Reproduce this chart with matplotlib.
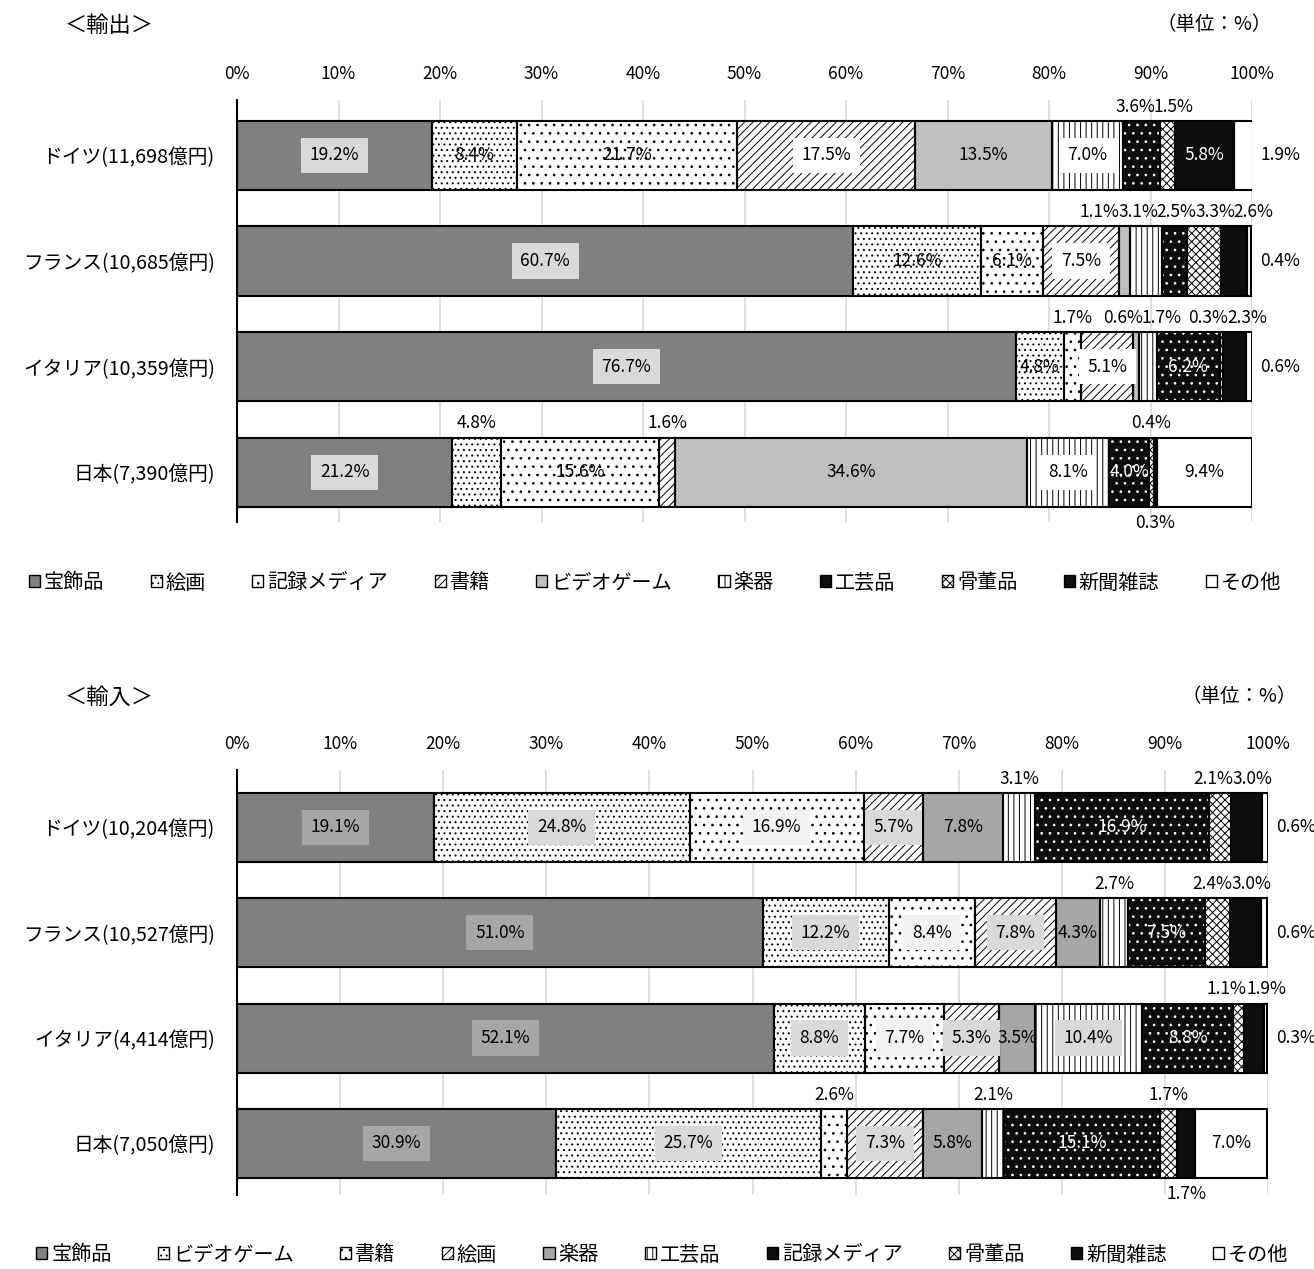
import numpy as np
import matplotlib.pyplot as plt
from matplotlib.patches import Patch

plt.rcParams['font.family'] = ['Noto Sans CJK JP', 'DejaVu Sans']
plt.rcParams['hatch.linewidth'] = 0.7

# ---- data: export ----
exp_countries = ['ドイツ(11,698億円)', 'フランス(10,685億円)', 'イタリア(10,359億円)', '日本(7,390億円)']
exp_items = ['宝飾品', '絵画', '記録メディア', '書籍', 'ビデオゲーム', '楽器', '工芸品', '骨董品', '新聞雑誌', 'その他']
exp_de = [19.2, 8.4, 21.7, 17.5, 13.5, 7.0, 3.6, 1.5, 5.8, 1.9]
exp_fr = [60.7, 12.6, 6.1, 7.5, 1.1, 3.1, 2.5, 3.3, 2.6, 0.4]
exp_it = [76.7, 4.8, 1.7, 5.1, 0.6, 1.7, 6.2, 0.3, 2.3, 0.6]
exp_jp = [21.2, 4.8, 15.6, 1.6, 34.6, 8.1, 4.0, 0.4, 0.3, 9.4]

# ---- data: import ----
imp_countries = ['ドイツ(10,204億円)', 'フランス(10,527億円)', 'イタリア(4,414億円)', '日本(7,050億円)']
imp_items = ['宝飾品', 'ビデオゲーム', '書籍', '絵画', '楽器', '工芸品', '記録メディア', '骨董品', '新聞雑誌', 'その他']
imp_de = [19.1, 24.8, 16.9, 5.7, 7.8, 3.1, 16.9, 2.1, 3.0, 0.6]
imp_fr = [51.0, 12.2, 8.4, 7.8, 4.3, 2.7, 7.5, 2.4, 3.0, 0.6]
imp_it = [52.1, 8.8, 7.7, 5.3, 3.5, 10.4, 8.8, 1.1, 1.9, 0.3]
imp_jp = [30.9, 25.7, 2.6, 7.3, 5.8, 2.1, 15.1, 1.7, 1.7, 7.0]

# fill style per stack position: (face, hatch colour, hatch)
slot_style = [
    ('#808080', '#808080', None),
    ('white', 'black', '...'),
    ('white', 'black', '..'),
    ('white', 'black', '////'),
    (None, None, None),          # plain gray, differs per chart
    ('white', 'black', '|||'),
    ('#0d0d0d', 'white', '..'),
    ('white', 'black', 'xxxx'),
    ('#0d0d0d', '#0d0d0d', None),
    ('white', 'white', None),
]
white_text = [6, 8]


def spread(centers, gap):
    # push overlapping labels apart, keeping each cluster centred
    groups = []
    for c in sorted(centers):
        groups.append([c])
        while len(groups) > 1:
            a, b = groups[-2], groups[-1]
            a_start = np.mean(a) - (len(a) - 1) * gap / 2
            b_start = np.mean(b) - (len(b) - 1) * gap / 2
            if a_start + len(a) * gap > b_start:
                groups[-2] = a + b
                groups.pop()
            else:
                break
    out = []
    for g in groups:
        s = np.mean(g) - (len(g) - 1) * gap / 2
        out += [s + k * gap for k in range(len(g))]
    return out


def draw(ax, countries, rows, gray4, boxes, inside_min, place):
    data = np.array(rows)
    y = np.arange(len(countries))
    h = 0.655
    left = np.zeros(len(countries))
    for j in range(data.shape[1]):
        face, hc, hatch = slot_style[j]
        if face is None:
            face, hc = gray4, gray4
        w = data[:, j]
        ax.barh(y, w, left=left, height=h, color=face, edgecolor=hc, hatch=hatch, lw=0, zorder=2)
        ax.barh(y, w, left=left, height=h, fill=False, edgecolor='black', lw=1.5, zorder=3)
        left = left + w

    for i in range(len(countries)):
        starts = np.concatenate([[0], np.cumsum(data[i])[:-1]])
        above = []
        for j, v in enumerate(data[i]):
            txt = f'{v:.1f}%'
            c = starts[j] + v / 2
            where = place.get((i, j))
            if where is None:
                if v >= inside_min:
                    where = 'in'
                elif j == len(data[i]) - 1:
                    where = 'right'
                else:
                    where = 'above'
            if where == 'in':
                col = 'white' if j in white_text else 'black'
                bb = None
                if boxes[j]:
                    bb = dict(boxstyle='square,pad=0.5', fc=boxes[j], ec='none')
                ax.text(c, i, txt, ha='center', va='center', fontsize=12.5, color=col, bbox=bb, zorder=5)
            elif where == 'right':
                ax.text(100.8, i, txt, ha='left', va='center', fontsize=12.5, zorder=5)
            elif where == 'below':
                ax.text(c, i + h / 2 + 0.15, txt, ha='center', va='center', fontsize=12.5, zorder=5)
            else:
                above.append((c, txt))
        if above:
            xs = spread([a[0] for a in above], 3.8)
            for x, (_, txt) in zip(xs, sorted(above)):
                ax.text(x, i - h / 2 - 0.135, txt, ha='center', va='center', fontsize=12.5, zorder=5)

    ax.set_xlim(0, 100)
    ax.set_xticks(np.arange(0, 101, 10))
    ax.set_xticklabels([f'{t}%' for t in range(0, 101, 10)], fontsize=12.5)
    ax.xaxis.tick_top()
    ax.tick_params(axis='x', length=0, pad=12)
    ax.tick_params(axis='y', length=0, pad=16)
    ax.set_yticks(y)
    ax.set_yticklabels(countries, fontsize=14.2)
    ax.grid(axis='x', color='#d9d9d9', lw=1.2, zorder=0)
    ax.set_axisbelow(True)
    for s in ['top', 'right', 'bottom']:
        ax.spines[s].set_visible(False)
    ax.spines['left'].set_linewidth(1.5)


def legend(items, gray4, x, y):
    handles = []
    for j, name in enumerate(items):
        face, hc, hatch = slot_style[j]
        if face is None:
            face = gray4
        if j == 6:
            handles.append(Patch(facecolor='#0d0d0d', edgecolor='black', lw=1))
        else:
            handles.append(Patch(facecolor=face, edgecolor='black', hatch=hatch, lw=1))
    fig.legend(handles, items, loc='center', bbox_to_anchor=(x, y), ncol=10, frameon=False,
               fontsize=14.5, handlelength=0.55, handleheight=0.55, handletextpad=0.2,
               columnspacing=2.3)


fig = plt.figure(figsize=(13.14, 12.69), dpi=100)

ax1 = fig.add_axes([237 / 1314, 1 - 522 / 1269, 1015 / 1314, 422 / 1269])
draw(ax1, exp_countries, [exp_de, exp_fr, exp_it, exp_jp], '#bfbfbf',
     ['#d9d9d9', None, None, 'white', None, 'white', None, None, None, None],
     4.0, {(3, 1): 'above', (3, 8): 'below'})
ax1.set_ylim(3.47, -0.525)

ax2 = fig.add_axes([237 / 1314, 1 - 1195 / 1269, 1031 / 1314, 425 / 1269])
draw(ax2, imp_countries, [imp_de, imp_fr, imp_it, imp_jp], '#a6a6a6',
     ['#a6a6a6', '#d9d9d9', '#f2f2f2', '#d9d9d9', None, '#d9d9d9', None, None, None, None],
     3.5, {(3, 8): 'below'})
ax2.set_ylim(3.49, -0.546)

fig.text(65 / 1314, 1 - 25 / 1269, '＜輸出＞', fontsize=16, va='center', ha='left')
fig.text(1272 / 1314, 1 - 25 / 1269, '（単位：%）', fontsize=14, va='center', ha='right')
fig.text(65 / 1314, 1 - 697 / 1269, '＜輸入＞', fontsize=16, va='center', ha='left')
fig.text(1297 / 1314, 1 - 697 / 1269, '（単位：%）', fontsize=14, va='center', ha='right')

legend(exp_items, '#bfbfbf', 0.4985, 1 - 583 / 1269)
legend(imp_items, '#a6a6a6', 0.504, 1 - 1255 / 1269)

fig.savefig('out.png', dpi=100)
